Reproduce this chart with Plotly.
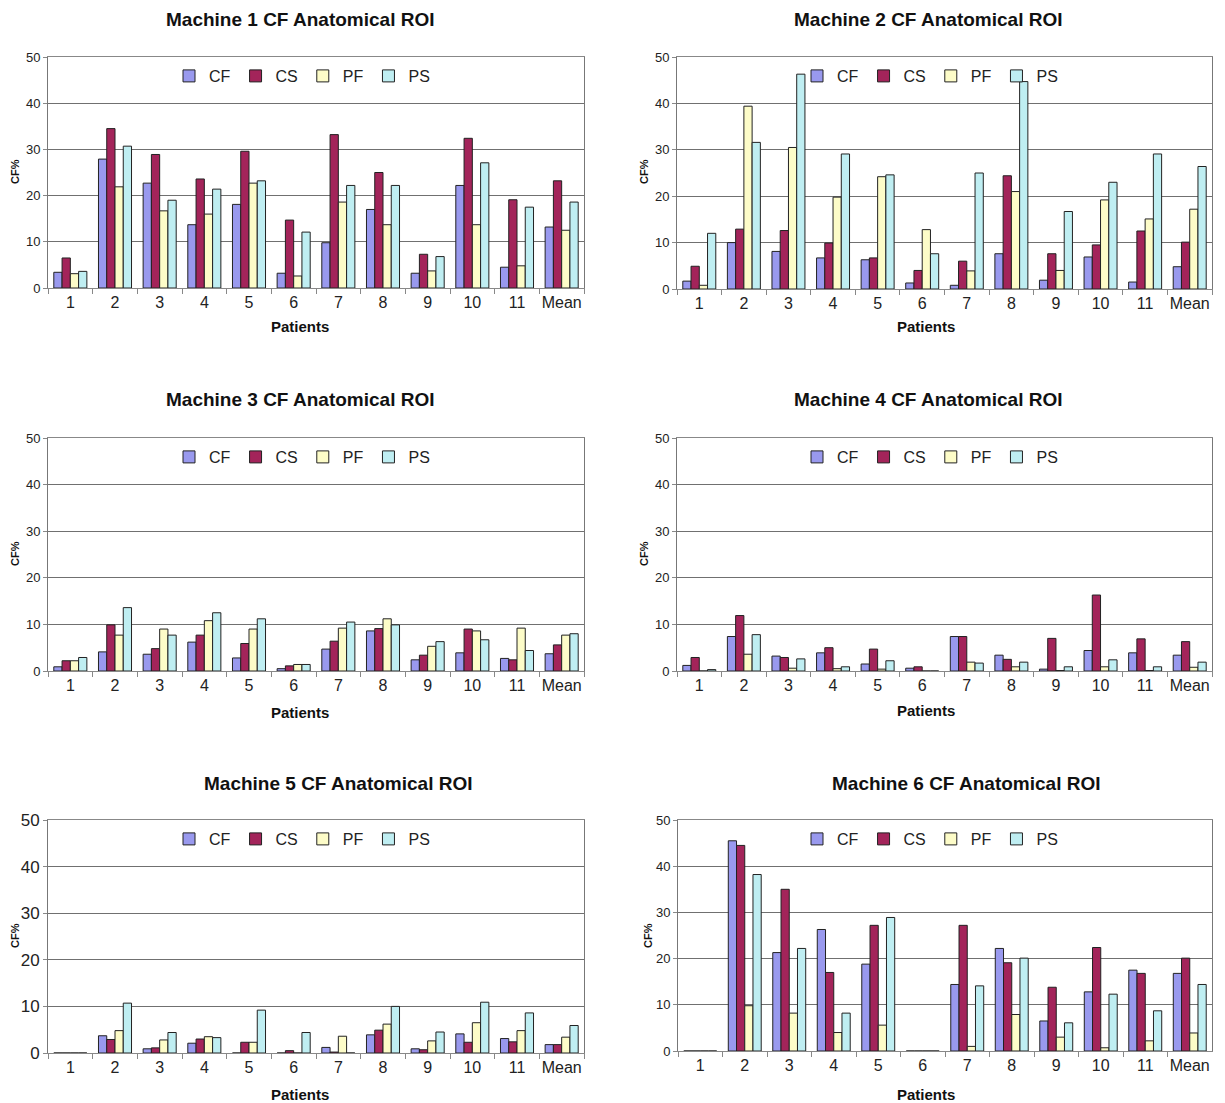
import plotly.graph_objects as go

patients = ["1", "2", "3", "4", "5", "6", "7", "8", "9", "10", "11", "Mean"]
series_names = ["CF", "CS", "PF", "PS"]
titles = ["Machine 1 CF Anatomical ROI", "Machine 2 CF Anatomical ROI",
          "Machine 3 CF Anatomical ROI", "Machine 4 CF Anatomical ROI",
          "Machine 5 CF Anatomical ROI", "Machine 6 CF Anatomical ROI"]

m1_cf = [3.4, 27.9, 22.7, 13.7, 18.1, 3.2, 9.8, 17.0, 3.2, 22.2, 4.5, 13.2]
m1_cs = [6.5, 34.5, 28.9, 23.6, 29.6, 14.7, 33.2, 25.0, 7.3, 32.4, 19.1, 23.2]
m1_pf = [3.1, 21.9, 16.7, 16.0, 22.7, 2.6, 18.6, 13.7, 3.7, 13.7, 4.8, 12.5]
m1_ps = [3.6, 30.7, 19.0, 21.4, 23.2, 12.1, 22.2, 22.2, 6.8, 27.1, 17.5, 18.6]

m2_cf = [1.7, 10.0, 8.1, 6.7, 6.3, 1.3, 0.8, 7.6, 1.9, 6.9, 1.5, 4.8]
m2_cs = [4.9, 12.9, 12.6, 9.9, 6.7, 4.0, 6.0, 24.4, 7.6, 9.5, 12.5, 10.1]
m2_pf = [0.8, 39.4, 30.5, 19.8, 24.2, 12.8, 3.9, 21.0, 4.0, 19.2, 15.1, 17.2]
m2_ps = [12.0, 31.6, 46.3, 29.1, 24.6, 7.6, 25.0, 44.7, 16.7, 23.0, 29.1, 26.4]

m3_cf = [0.9, 4.1, 3.6, 6.2, 2.8, 0.5, 4.7, 8.6, 2.4, 3.9, 2.7, 3.7]
m3_cs = [2.2, 9.9, 4.8, 7.7, 5.9, 1.1, 6.4, 9.1, 3.4, 9.0, 2.4, 5.6]
m3_pf = [2.2, 7.7, 9.0, 10.8, 9.0, 1.4, 9.2, 11.2, 5.3, 8.6, 9.2, 7.7]
m3_ps = [2.9, 13.6, 7.7, 12.5, 11.2, 1.4, 10.5, 9.9, 6.3, 6.7, 4.4, 8.0]

m4_cf = [1.2, 7.4, 3.2, 3.9, 1.5, 0.6, 7.4, 3.4, 0.4, 4.4, 3.9, 3.4]
m4_cs = [2.9, 11.9, 2.9, 5.0, 4.7, 0.9, 7.4, 2.5, 7.0, 16.3, 6.9, 6.3]
m4_pf = [0.0, 3.6, 0.6, 0.5, 0.4, 0.0, 1.9, 0.9, 0.1, 0.9, 0.1, 0.8]
m4_ps = [0.3, 7.8, 2.6, 0.9, 2.2, 0.0, 1.7, 1.9, 0.9, 2.4, 0.9, 1.9]

m5_cf = [0.0, 3.7, 0.9, 2.1, 0.0, 0.0, 1.2, 3.9, 0.9, 4.1, 3.1, 1.8]
m5_cs = [0.0, 2.9, 1.1, 3.0, 2.3, 0.5, 0.2, 4.9, 0.7, 2.3, 2.4, 1.8]
m5_pf = [0.0, 4.8, 2.8, 3.5, 2.3, 0.0, 3.6, 6.2, 2.6, 6.5, 4.8, 3.4]
m5_ps = [0.0, 10.7, 4.4, 3.3, 9.2, 4.4, 0.0, 10.0, 4.5, 10.9, 8.6, 5.9]

m6_cf = [0.0, 45.5, 21.3, 26.3, 18.8, 0.0, 14.4, 22.2, 6.5, 12.8, 17.5, 16.8]
m6_cs = [0.0, 44.5, 35.0, 17.0, 27.2, 0.0, 27.2, 19.1, 13.8, 22.4, 16.8, 20.1]
m6_pf = [0.0, 9.8, 8.2, 4.0, 5.6, 0.0, 1.0, 7.9, 3.0, 0.7, 2.2, 3.9]
m6_ps = [0.0, 38.2, 22.2, 8.2, 28.9, 0.0, 14.1, 20.1, 6.1, 12.3, 8.7, 14.4]

machines = [
    [m1_cf, m1_cs, m1_pf, m1_ps],
    [m2_cf, m2_cs, m2_pf, m2_ps],
    [m3_cf, m3_cs, m3_pf, m3_ps],
    [m4_cf, m4_cs, m4_pf, m4_ps],
    [m5_cf, m5_cs, m5_pf, m5_ps],
    [m6_cf, m6_cs, m6_pf, m6_ps],
]

colors = ["#9999ee", "#a3245a", "#fdfcc8", "#bfeef2"]

PAGE_W, PAGE_H = 1225, 1103
OFF = 8  # default body margin of the html page
W, H = PAGE_W - OFF, PAGE_H - OFF


def px_x(x):
    return (x - OFF) / W


def px_y(y):
    return 1 - (y - OFF) / H


# page-pixel boxes for plot areas: (left, right, top, bottom)
boxes = [
    (48, 584, 57, 288), (677, 1212, 57, 289),
    (48, 584, 438, 671), (677, 1212, 438, 671),
    (48, 584, 820, 1053), (678, 1212, 820, 1051),
]
title_pos = [(300, 19), (928, 19), (300, 400), (928, 400), (338, 783), (966, 783)]
xlab_pos = [(300, 327), (926, 327), (300, 712), (926, 710), (300, 1094), (926, 1094)]
ylab_pos = [(15, 172), (644, 172), (15, 554), (644, 554), (15, 936), (648, 936)]
legend_x = [302, 930, 302, 930, 302, 930]

font_family = "Liberation Sans, Arial, sans-serif"
fig = go.Figure()
layout = dict(
    width=W, height=H, margin=dict(l=0, r=0, t=0, b=0, autoexpand=False),
    paper_bgcolor="white", plot_bgcolor="white",
    barmode="group", bargap=0.26, bargroupgap=0.0,
    font=dict(family=font_family, color="#222"),
    annotations=[],
)

for i, (box, data) in enumerate(zip(boxes, machines)):
    k = "" if i == 0 else str(i + 1)
    L, R, T, B = box
    xd = [px_x(L), px_x(R)]
    yd = [px_y(B), px_y(T)]
    leg = "legend" if i == 0 else f"legend{i + 1}"
    for s, name in enumerate(series_names):
        fig.add_trace(go.Bar(
            x=patients, y=data[s], name=name,
            marker=dict(color=colors[s], line=dict(color="#222", width=1)),
            xaxis="x" + k, yaxis="y" + k, legend=leg,
        ))
    big = (i == 4)
    layout["xaxis" + k] = dict(
        domain=xd, anchor="y" + k, type="category", automargin=False,
        tickson="boundaries", ticks="outside", ticklen=5, tickcolor="#888",
        showline=True, linecolor="#888", linewidth=1, mirror=True,
        tickfont=dict(size=16, color="#222"), showgrid=False, tickangle=0,
    )
    layout["yaxis" + k] = dict(
        domain=yd, anchor="x" + k, range=[0, 50], dtick=10, automargin=False,
        ticks="outside", ticklen=4, tickcolor="#888",
        showline=True, linecolor="#777", linewidth=1, mirror=True,
        showgrid=True, gridcolor="#707070", gridwidth=1,
        tickfont=dict(size=17 if big else 13, color="#222"),
        zeroline=False,
    )
    layout[leg] = dict(
        orientation="h", x=px_x(legend_x[i]), xanchor="center", y=px_y(T + 2), yanchor="top",
        font=dict(size=16, color="#222"), bgcolor="rgba(0,0,0,0)",
        itemwidth=30, traceorder="normal", tracegroupgap=0,
    )
    tx, ty = title_pos[i]
    layout["annotations"].append(dict(
        text=f"<b>{titles[i]}</b>", x=px_x(tx), y=px_y(ty), xref="paper", yref="paper",
        xanchor="center", yanchor="middle", showarrow=False,
        font=dict(size=19, color="#111"),
    ))
    lx, ly = xlab_pos[i]
    layout["annotations"].append(dict(
        text="<b>Patients</b>", x=px_x(lx), y=px_y(ly), xref="paper", yref="paper",
        xanchor="center", yanchor="middle", showarrow=False,
        font=dict(size=15, color="#111"),
    ))
    qx, qy = ylab_pos[i]
    layout["annotations"].append(dict(
        text="<b>CF%</b>", x=px_x(qx), y=px_y(qy), xref="paper", yref="paper",
        xanchor="center", yanchor="middle", showarrow=False, textangle=-90,
        font=dict(size=11, color="#111"),
    ))

fig.update_layout(**layout)
fig.write_html("out.html")
